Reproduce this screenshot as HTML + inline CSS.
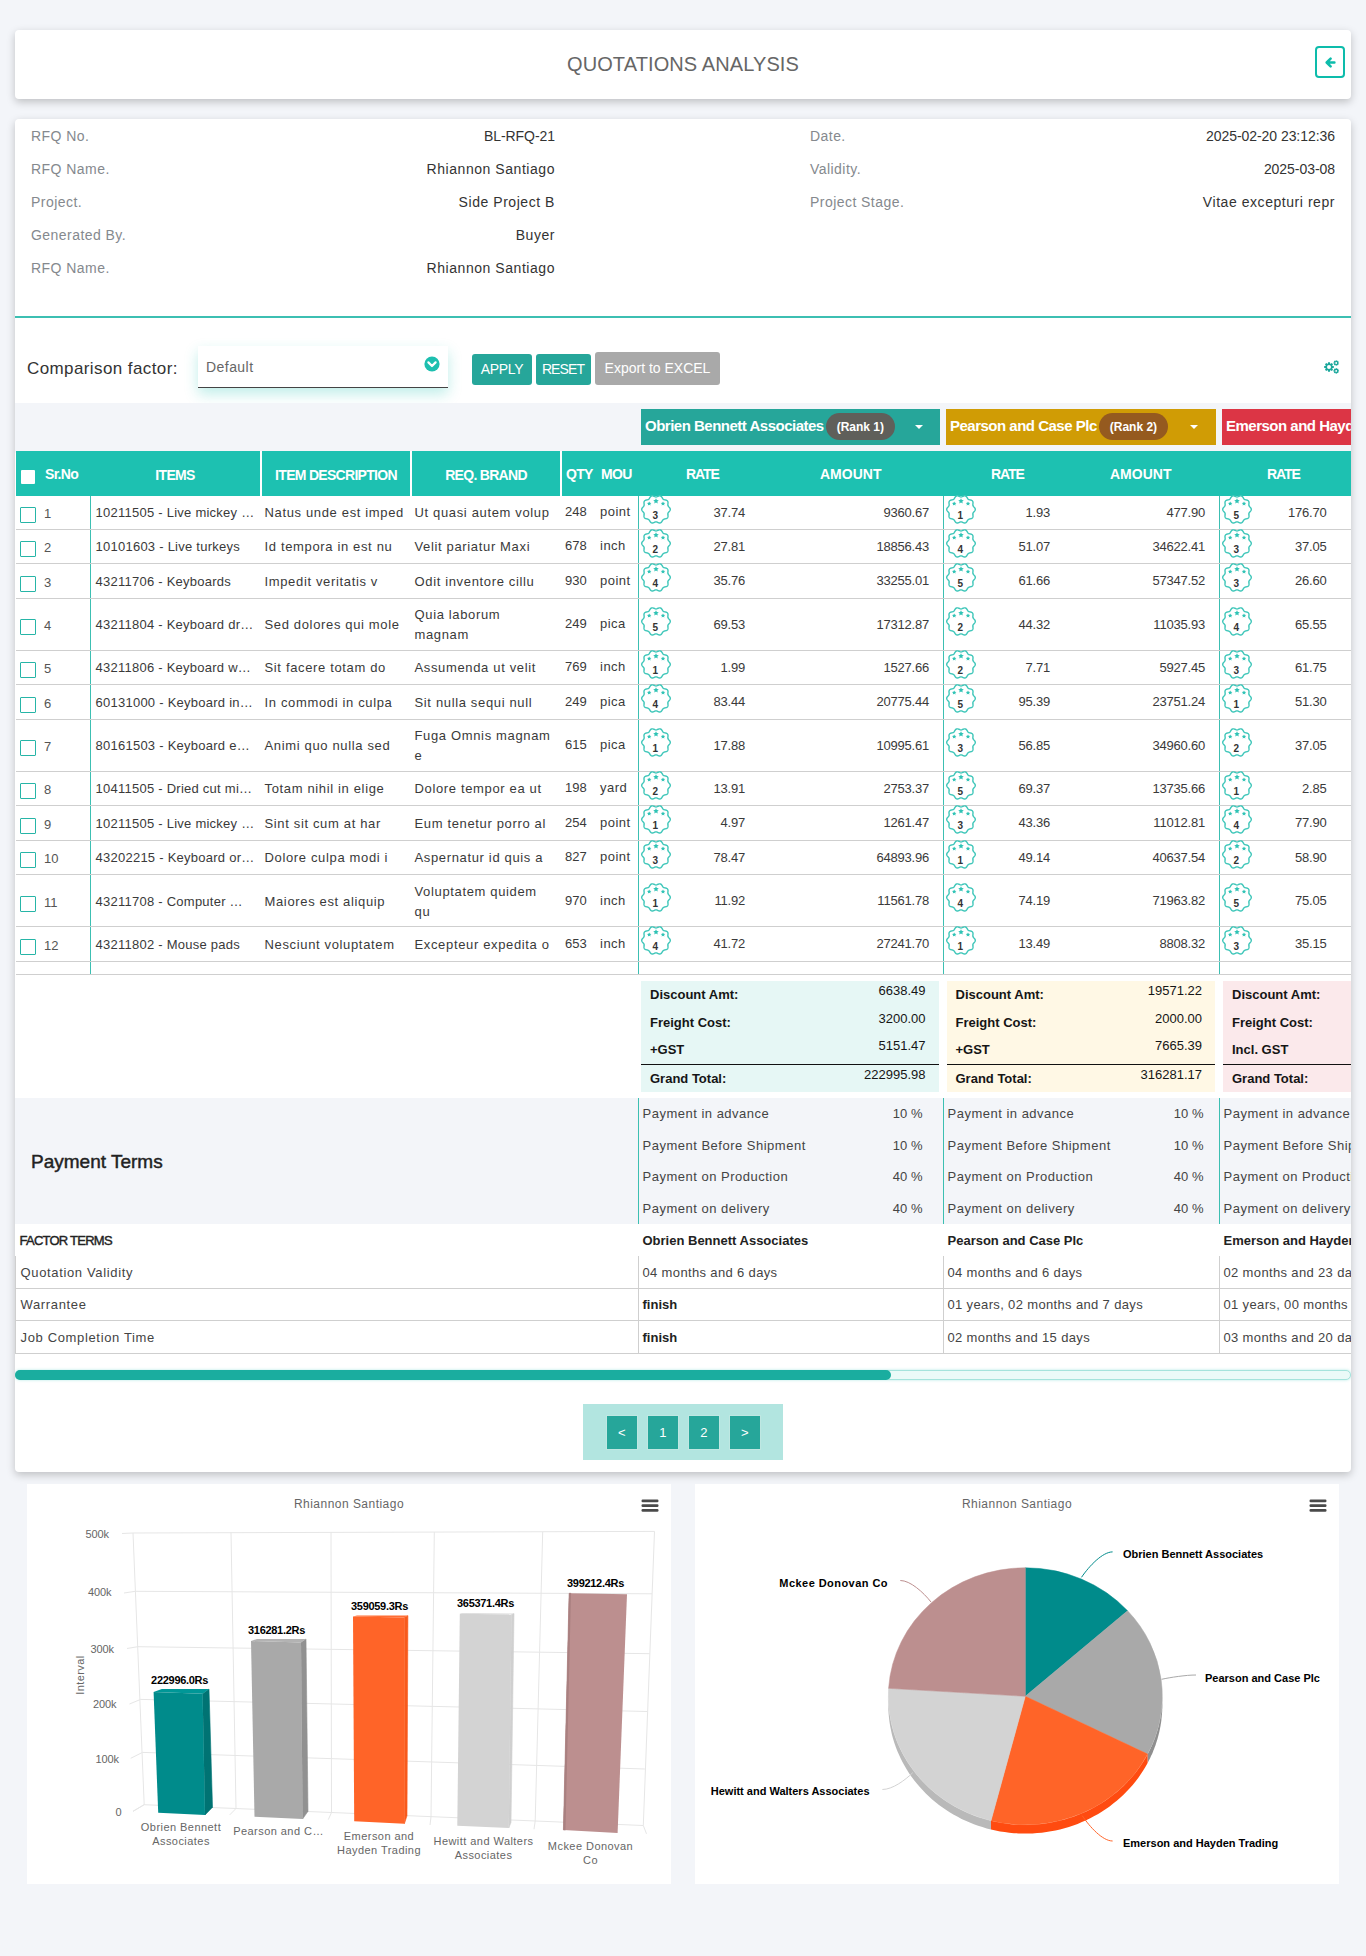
<!DOCTYPE html>
<html lang="en"><head><meta charset="utf-8"><title>Quotations Analysis</title>
<style>
*{box-sizing:border-box}
html,body{margin:0;padding:0}
body{width:1366px;height:1956px;background:#f3f5f9;font-family:"Liberation Sans",sans-serif;font-size:14px;color:#333;position:relative;overflow:hidden;letter-spacing:.45px}
.card{position:absolute;left:15px;width:1336px;background:#fff;border-radius:4px;box-shadow:0 3px 9px rgba(0,0,0,.22)}
#hd{top:30px;height:69px}
#hd h1{margin:0;position:absolute;left:0;right:0;top:21px;text-align:center;font-size:20px;font-weight:400;color:#666;letter-spacing:.1px;line-height:26px}
#back{position:absolute;left:1300px;top:16px;width:30px;height:32px;border:2px solid #0dbcab;border-radius:4px;background:#fff}
#back svg{position:absolute;left:8.2px;top:8.5px}
#main{top:119px;height:1353px;overflow:hidden}
.info{position:absolute;left:0;top:0;width:1336px;height:198px}
.info div{position:absolute;line-height:20px;height:20px;white-space:nowrap}
.info .l{color:#85898e}
.info .v{color:#333;text-align:right;letter-spacing:.55px}
.info .v.num{letter-spacing:-.05px}
#hr{position:absolute;left:0;top:197px;width:1336px;height:2px;background:#3cbfb2}
#cf{position:absolute;left:12px;top:239px;font-size:17px;line-height:22px;color:#333;letter-spacing:.4px}
#sel{position:absolute;left:183px;top:226.5px;width:250px;height:42px;background:#fff;border-bottom:1.5px solid #444;box-shadow:0 6px 14px rgba(29,193,177,.28);}
#sel span{position:absolute;left:8px;top:11px;font-size:14px;color:#666;line-height:20px}
#sel svg{position:absolute;left:225.5px;top:10.5px}
.btn{position:absolute;top:235px;height:31px;border-radius:3px;color:#fff;font-size:14px;line-height:30px;text-align:center;letter-spacing:0}
#b1{left:457px;width:60px;background:#26a69a;letter-spacing:-.3px}
#b2{left:521px;width:55px;background:#26a69a;letter-spacing:-.9px;text-indent:-1px}
#b3{left:580px;width:125px;background:#a9a9a9;letter-spacing:0;top:233px;height:33px;line-height:32px}
#gear{position:absolute;left:1308px;top:240px}
#strip{position:absolute;left:0;top:284px;width:1336px;height:50px;background:#f3f5f9}
.vh{position:absolute;top:290px;height:36px;color:#fff;font-weight:700;font-size:15px;line-height:34px;white-space:nowrap;letter-spacing:-.5px;padding-left:4px}
.vh .rk{display:inline-block;vertical-align:middle;height:27px;line-height:28.5px;border-radius:14px;padding:0 10.5px;font-size:12px;margin-left:2.5px;position:relative;top:-.6px;letter-spacing:0}
.vh i{position:absolute;top:16px;border:4px solid transparent;border-top-color:#fff;border-bottom:0;width:0;height:0}
#vh1{left:626px;width:299px;background:#26a69a}
#vh2{left:931px;width:270px;background:#d09c05}
#vh3{left:1207px;width:140px;background:#dc3545}
table{border-collapse:collapse;border-spacing:0}
#tb{position:absolute;left:1px;top:332px;width:1400px;table-layout:fixed}
#tb th{background:#1dc1b1;color:#fff;font-weight:700;font-size:14px;height:45px;padding:0;text-align:center;letter-spacing:-.7px;position:relative;white-space:nowrap}
#tb th.s{border-right:2px solid #fff}
#tb th b{position:relative;top:1.5px}
#tb td{padding:2px 0 0 5px;border-bottom:1px solid #cfcfcf;vertical-align:middle;line-height:20px;white-space:nowrap;position:relative;color:#3a3a3a;font-size:13px;letter-spacing:.65px}
#tb td.c1{letter-spacing:.25px}
#tb td.c2,#tb td.c3{padding-left:3.5px}
.c4 .q{letter-spacing:0}.c4 .m{letter-spacing:.5px}
#tb tr.r1 td{height:34.5px}
#tb tr.r2 td{height:52px}
#tb tr.r1:nth-child(2) td{height:33.2px}
#tb tr.re td{height:13px;border-bottom:1px solid #cfcfcf}
#tb td.c0{border-right:1.5px solid #3cbfb2}
#tb td.c4,#tb td.v1,#tb td.v2{border-right:1.5px solid #3cbfb2}
.cb{position:absolute;left:4px;top:50%;margin-top:-5px;width:16px;height:16px;border:1.5px solid #26b5a7;border-radius:1px;background:#fff}
.sn{position:absolute;left:28px;top:50%;margin-top:-8px;color:#555;font-size:13px;letter-spacing:0}
.c4 .q{position:absolute;left:4px;top:50%;margin-top:-10px}
.c4 .m{position:absolute;left:39px;top:50%;margin-top:-10px}
.bdg{position:absolute;left:2.5px;top:50%;margin-top:-17.6px}
.bdg text{font:700 10px "Liberation Sans",sans-serif;fill:#333;letter-spacing:0}
.rt,.am{position:absolute;top:50%;margin-top:-9.5px;text-align:right;letter-spacing:-.2px}
.v1 .rt{right:197.5px}.v1 .am{right:13.5px}
.v2 .rt{right:168.5px}.v2 .am{right:13.5px}
.v3 .rt{left:32px;width:75px}
#tot{position:absolute;left:0;top:856px;width:1336px;height:123px;background:#fff}
.tb{position:absolute;top:6px;height:110.5px;font-weight:700;font-size:13px;color:#151515;letter-spacing:0}
.tb div{position:absolute;left:9px;line-height:20px;white-space:nowrap}
.tb span{position:absolute;right:13px;line-height:20px;font-weight:400;letter-spacing:0;font-size:13px}
.tb u{position:absolute;left:0;right:0;top:83px;height:1px;background:#111}
#t1{left:626px;width:297.5px;background:#e6f7f5}
#t2{left:931.5px;width:268.5px;background:#fff8e5}
#t3{left:1208px;width:140px;background:#fbe9eb}
#pay{position:absolute;left:0;top:979px;width:1336px;height:126px;background:#f3f5f9}
#pay h3{position:absolute;left:16px;top:52px;margin:0;font-size:19px;font-weight:400;-webkit-text-stroke:.45px #222;color:#222;letter-spacing:0;line-height:24px}
.pc{position:absolute;top:0;height:126px;border-left:1.5px solid #3cbfb2}
.pc div{position:absolute;left:4px;line-height:20px;white-space:nowrap;color:#444;font-size:13px;letter-spacing:.5px}
.pc span{margin-right:-1px;position:absolute;line-height:20px;white-space:nowrap;color:#444;letter-spacing:0;font-size:13px}
#ft{position:absolute;left:0;top:1105px;width:1400px;table-layout:fixed}
#ft td{height:32.3px;padding:0 0 0 5px;white-space:nowrap;border-bottom:1px solid #cfcfcf;border-left:1px solid #cfcfcf;color:#444;font-size:13px;letter-spacing:.35px}
#ft td:first-child{letter-spacing:.65px;padding-left:4.5px}
#ft td+td{padding-left:3.5px}
#ft tr.h td{font-weight:700;color:#222;border:0;letter-spacing:0;padding-left:4px}
#ft tr.h td:first-child{letter-spacing:-.75px;font-weight:400;-webkit-text-stroke:.4px #222}
#ft b{letter-spacing:0;color:#222}
#sb{position:absolute;left:0;top:1251px;width:1336px;height:10px;border-radius:5px;background:#eafaf8;border:1.5px solid #a4e3dc;box-shadow:0 0 3px rgba(29,193,177,.35)}
#sb i{position:absolute;left:-1.5px;top:-1.5px;width:876px;height:10px;border-radius:5px;background:#1aad9f}
#pg{position:absolute;left:568px;top:1285px;width:200px;height:55.5px;background:#b2e5e0}
#pg a{position:absolute;top:10.5px;width:31.5px;height:35px;border:1px solid #bfe7e2;background:#26a69a;color:#fff;text-align:center;line-height:34px;font-size:13px;letter-spacing:0}
.ch{position:absolute;top:1484px;width:644px;height:399.5px;background:#fff}
.ch text{font-family:"Liberation Sans",sans-serif}
</style></head><body>
<svg width="0" height="0" style="position:absolute"><defs><g id="bd"><path d="M15.00 1.95 L15.40 1.91 L15.80 1.81 L16.22 1.66 L16.65 1.47 L17.10 1.26 L17.57 1.08 L18.04 0.93 L18.51 0.85 L18.98 0.85 L19.42 0.94 L19.83 1.13 L20.20 1.39 L20.54 1.74 L20.83 2.13 L21.10 2.55 L21.34 2.98 L21.58 3.38 L21.83 3.75 L22.09 4.07 L22.39 4.33 L22.73 4.53 L23.12 4.68 L23.55 4.80 L24.01 4.90 L24.50 5.00 L24.99 5.12 L25.45 5.27 L25.89 5.48 L26.26 5.75 L26.56 6.08 L26.79 6.47 L26.93 6.91 L27.00 7.38 L27.00 7.87 L26.97 8.36 L26.91 8.85 L26.87 9.32 L26.84 9.76 L26.87 10.17 L26.96 10.55 L27.12 10.91 L27.34 11.26 L27.62 11.61 L27.93 11.96 L28.27 12.32 L28.59 12.70 L28.88 13.10 L29.10 13.52 L29.24 13.96 L29.29 14.40 L29.24 14.84 L29.10 15.28 L28.88 15.70 L28.59 16.10 L28.27 16.48 L27.93 16.84 L27.62 17.19 L27.34 17.54 L27.12 17.89 L26.96 18.25 L26.87 18.63 L26.84 19.04 L26.87 19.48 L26.91 19.95 L26.97 20.44 L27.00 20.93 L27.00 21.42 L26.93 21.89 L26.79 22.33 L26.56 22.72 L26.26 23.05 L25.89 23.32 L25.45 23.53 L24.99 23.68 L24.50 23.80 L24.01 23.90 L23.55 24.00 L23.12 24.12 L22.73 24.27 L22.39 24.47 L22.09 24.73 L21.83 25.05 L21.58 25.42 L21.34 25.82 L21.10 26.25 L20.83 26.67 L20.54 27.06 L20.20 27.41 L19.83 27.67 L19.42 27.86 L18.98 27.95 L18.51 27.95 L18.04 27.87 L17.57 27.72 L17.10 27.54 L16.65 27.33 L16.22 27.14 L15.80 26.99 L15.40 26.89 L15.00 26.85 L14.60 26.89 L14.20 26.99 L13.78 27.14 L13.35 27.33 L12.90 27.54 L12.43 27.72 L11.96 27.87 L11.49 27.95 L11.02 27.95 L10.58 27.86 L10.17 27.67 L9.80 27.41 L9.46 27.06 L9.17 26.67 L8.90 26.25 L8.66 25.82 L8.42 25.42 L8.17 25.05 L7.91 24.73 L7.61 24.47 L7.27 24.27 L6.88 24.12 L6.45 24.00 L5.99 23.90 L5.50 23.80 L5.01 23.68 L4.55 23.53 L4.11 23.32 L3.74 23.05 L3.44 22.72 L3.21 22.33 L3.07 21.89 L3.00 21.42 L3.00 20.93 L3.03 20.44 L3.09 19.95 L3.13 19.48 L3.16 19.04 L3.13 18.63 L3.04 18.25 L2.88 17.89 L2.66 17.54 L2.38 17.19 L2.07 16.84 L1.73 16.48 L1.41 16.10 L1.12 15.70 L0.90 15.28 L0.76 14.84 L0.71 14.40 L0.76 13.96 L0.90 13.52 L1.12 13.10 L1.41 12.70 L1.73 12.32 L2.07 11.96 L2.38 11.61 L2.66 11.26 L2.88 10.91 L3.04 10.55 L3.13 10.17 L3.16 9.76 L3.13 9.32 L3.09 8.85 L3.03 8.36 L3.00 7.87 L3.00 7.38 L3.07 6.91 L3.21 6.47 L3.44 6.08 L3.74 5.75 L4.11 5.48 L4.55 5.27 L5.01 5.12 L5.50 5.00 L5.99 4.90 L6.45 4.80 L6.88 4.68 L7.27 4.53 L7.61 4.33 L7.91 4.07 L8.17 3.75 L8.42 3.38 L8.66 2.98 L8.90 2.55 L9.17 2.13 L9.46 1.74 L9.80 1.39 L10.17 1.13 L10.58 0.94 L11.02 0.85 L11.49 0.85 L11.96 0.93 L12.43 1.08 L12.90 1.26 L13.35 1.47 L13.78 1.66 L14.20 1.81 L14.60 1.91Z" fill="#fff" stroke="#3ec6b9" stroke-width="1.4"/><path d="M15.00 3.20 L15.85 4.93 L17.76 5.20 L16.38 6.55 L16.70 8.45 L15.00 7.55 L13.30 8.45 L13.62 6.55 L12.24 5.20 L14.15 4.93Z M8.20 6.40 L8.88 7.77 L10.39 7.99 L9.29 9.06 L9.55 10.56 L8.20 9.85 L6.85 10.56 L7.11 9.06 L6.01 7.99 L7.52 7.77Z M22.00 6.40 L22.68 7.77 L24.19 7.99 L23.09 9.06 L23.35 10.56 L22.00 9.85 L20.65 10.56 L20.91 9.06 L19.81 7.99 L21.32 7.77Z" fill="#2fc3b5"/></g></defs></svg>

<div class="card" id="hd"><h1>QUOTATIONS ANALYSIS</h1>
<div id="back"><svg width="11" height="11" viewBox="0 0 11 11"><path d="M5.6 1.6 L1.7 5.5 L5.6 9.4 M2.4 5.5 H9.4" fill="none" stroke="#0dbcab" stroke-width="2.5" stroke-linecap="round" stroke-linejoin="round"/></svg></div></div>

<div class="card" id="main">
<div class="info">
<div class="l" style="left:16px;top:7px">RFQ No.</div><div class="v num" style="right:796px;top:7px">BL-RFQ-21</div>
<div class="l" style="left:16px;top:40px">RFQ Name.</div><div class="v" style="right:796px;top:40px">Rhiannon Santiago</div>
<div class="l" style="left:16px;top:73px">Project.</div><div class="v" style="right:796px;top:73px">Side Project B</div>
<div class="l" style="left:16px;top:106px">Generated By.</div><div class="v" style="right:796px;top:106px">Buyer</div>
<div class="l" style="left:16px;top:139px">RFQ Name.</div><div class="v" style="right:796px;top:139px">Rhiannon Santiago</div>
<div class="l" style="left:795px;top:7px">Date.</div><div class="v num" style="right:16px;top:7px">2025-02-20 23:12:36</div>
<div class="l" style="left:795px;top:40px">Validity.</div><div class="v num" style="right:16px;top:40px">2025-03-08</div>
<div class="l" style="left:795px;top:73px">Project Stage.</div><div class="v" style="right:16px;top:73px">Vitae excepturi repr</div>
</div>
<div id="hr"></div>
<div id="cf">Comparison factor:</div>
<div id="sel"><span>Default</span><svg width="16" height="16" viewBox="0 0 16 16"><circle cx="8" cy="8" r="7.6" fill="#1dbfaf"/><path d="M4.4 6.4 L8 10 L11.6 6.4" fill="none" stroke="#fff" stroke-width="2.2" stroke-linecap="round" stroke-linejoin="round"/></svg></div>
<div class="btn" id="b1">APPLY</div><div class="btn" id="b2">RESET</div><div class="btn" id="b3">Export to EXCEL</div>
<svg id="gear" width="18" height="16" viewBox="0 0 18 16"><path d="M4.99 4.44 L5.02 3.20 L6.98 3.20 L7.01 4.44 L7.80 4.77 L8.70 3.91 L10.09 5.30 L9.23 6.20 L9.56 6.99 L10.80 7.02 L10.80 8.98 L9.56 9.01 L9.23 9.80 L10.09 10.70 L8.70 12.09 L7.80 11.23 L7.01 11.56 L6.98 12.80 L5.02 12.80 L4.99 11.56 L4.20 11.23 L3.30 12.09 L1.91 10.70 L2.77 9.80 L2.44 9.01 L1.20 8.98 L1.20 7.02 L2.44 6.99 L2.77 6.20 L1.91 5.30 L3.30 3.91 L4.20 4.77Z M4.00 8.00 a2.0 2.0 0 1 0 4.0 0 a2.0 2.0 0 1 0 -4.0 0Z M12.63 1.98 L12.62 1.16 L13.78 1.16 L13.77 1.98 L14.22 2.17 L14.80 1.58 L15.62 2.40 L15.03 2.98 L15.22 3.43 L16.04 3.42 L16.04 4.58 L15.22 4.57 L15.03 5.02 L15.62 5.60 L14.80 6.42 L14.22 5.83 L13.77 6.02 L13.78 6.84 L12.62 6.84 L12.63 6.02 L12.18 5.83 L11.60 6.42 L10.78 5.60 L11.37 5.02 L11.18 4.57 L10.36 4.58 L10.36 3.42 L11.18 3.43 L11.37 2.98 L10.78 2.40 L11.60 1.58 L12.18 2.17Z M12.25 4.00 a0.95 0.95 0 1 0 1.9 0 a0.95 0.95 0 1 0 -1.9 0Z M12.63 9.88 L12.62 9.06 L13.78 9.06 L13.77 9.88 L14.22 10.07 L14.80 9.48 L15.62 10.30 L15.03 10.88 L15.22 11.33 L16.04 11.32 L16.04 12.48 L15.22 12.47 L15.03 12.92 L15.62 13.50 L14.80 14.32 L14.22 13.73 L13.77 13.92 L13.78 14.74 L12.62 14.74 L12.63 13.92 L12.18 13.73 L11.60 14.32 L10.78 13.50 L11.37 12.92 L11.18 12.47 L10.36 12.48 L10.36 11.32 L11.18 11.33 L11.37 10.88 L10.78 10.30 L11.60 9.48 L12.18 10.07Z M12.25 11.90 a0.95 0.95 0 1 0 1.9 0 a0.95 0.95 0 1 0 -1.9 0Z" fill="#1aa79b" fill-rule="evenodd"/></svg>

<div id="strip"></div>
<div class="vh" id="vh1">Obrien Bennett Associates<span class="rk" style="background:#5f5f5a">(Rank 1)</span><i style="left:274px"></i></div>
<div class="vh" id="vh2">Pearson and Case Plc<span class="rk" style="background:#955a1f">(Rank 2)</span><i style="left:244px"></i></div>
<div class="vh" id="vh3">Emerson and Hayden Trading</div>

<table id="tb"><colgroup><col style="width:74px"><col style="width:171px"><col style="width:150px"><col style="width:150px"><col style="width:77px"><col style="width:305px"><col style="width:276px"><col style="width:197px"></colgroup>
<tr><th><span style="position:absolute;left:5px;top:18.5px;width:14px;height:14.5px;background:#fff;border-radius:1px"></span><span style="position:absolute;left:29px;top:15px">Sr.No</span></th><th class="s"><b>ITEMS</b></th><th class="s"><b>ITEM DESCRIPTION</b></th><th class="s"><b>REQ. BRAND</b></th><th><span style="position:absolute;left:4px;top:15px">QTY</span><span style="position:absolute;left:39px;top:15px">MOU</span></th><th><span style="position:absolute;left:48px;top:15px;letter-spacing:-1.1px">RATE</span><span style="position:absolute;left:182px;top:15px;letter-spacing:0">AMOUNT</span></th><th><span style="position:absolute;left:48px;top:15px;letter-spacing:-1.1px">RATE</span><span style="position:absolute;left:167px;top:15px;letter-spacing:0">AMOUNT</span></th><th><span style="position:absolute;left:48px;top:15px;letter-spacing:-1.1px">RATE</span></th></tr>
<tr class="r1"><td class="c0"><span class="cb"></span><span class="sn">1</span></td><td class="c1">10211505 - Live mickey …</td><td class="c2">Natus unde est imped</td><td class="c3">Ut quasi autem volup</td><td class="c4"><span class="q">248</span><span class="m">point</span></td>
<td class="v1"><svg class="bdg" width="30" height="29" viewBox="0 0 30 29"><use href="#bd"/><text x="14.3" y="24.1" text-anchor="middle">3</text></svg><span class="rt">37.74</span><span class="am">9360.67</span></td><td class="v2"><svg class="bdg" width="30" height="29" viewBox="0 0 30 29"><use href="#bd"/><text x="14.3" y="24.1" text-anchor="middle">1</text></svg><span class="rt">1.93</span><span class="am">477.90</span></td><td class="v3"><svg class="bdg" width="30" height="29" viewBox="0 0 30 29"><use href="#bd"/><text x="14.3" y="24.1" text-anchor="middle">5</text></svg><span class="rt">176.70</span></td></tr>
<tr class="r1"><td class="c0"><span class="cb"></span><span class="sn">2</span></td><td class="c1">10101603 - Live turkeys</td><td class="c2">Id tempora in est nu</td><td class="c3">Velit pariatur Maxi</td><td class="c4"><span class="q">678</span><span class="m">inch</span></td>
<td class="v1"><svg class="bdg" width="30" height="29" viewBox="0 0 30 29"><use href="#bd"/><text x="14.3" y="24.1" text-anchor="middle">2</text></svg><span class="rt">27.81</span><span class="am">18856.43</span></td><td class="v2"><svg class="bdg" width="30" height="29" viewBox="0 0 30 29"><use href="#bd"/><text x="14.3" y="24.1" text-anchor="middle">4</text></svg><span class="rt">51.07</span><span class="am">34622.41</span></td><td class="v3"><svg class="bdg" width="30" height="29" viewBox="0 0 30 29"><use href="#bd"/><text x="14.3" y="24.1" text-anchor="middle">3</text></svg><span class="rt">37.05</span></td></tr>
<tr class="r1"><td class="c0"><span class="cb"></span><span class="sn">3</span></td><td class="c1">43211706 - Keyboards</td><td class="c2">Impedit veritatis v</td><td class="c3">Odit inventore cillu</td><td class="c4"><span class="q">930</span><span class="m">point</span></td>
<td class="v1"><svg class="bdg" width="30" height="29" viewBox="0 0 30 29"><use href="#bd"/><text x="14.3" y="24.1" text-anchor="middle">4</text></svg><span class="rt">35.76</span><span class="am">33255.01</span></td><td class="v2"><svg class="bdg" width="30" height="29" viewBox="0 0 30 29"><use href="#bd"/><text x="14.3" y="24.1" text-anchor="middle">5</text></svg><span class="rt">61.66</span><span class="am">57347.52</span></td><td class="v3"><svg class="bdg" width="30" height="29" viewBox="0 0 30 29"><use href="#bd"/><text x="14.3" y="24.1" text-anchor="middle">3</text></svg><span class="rt">26.60</span></td></tr>
<tr class="r2"><td class="c0"><span class="cb"></span><span class="sn">4</span></td><td class="c1">43211804 - Keyboard dr…</td><td class="c2">Sed dolores qui mole</td><td class="c3">Quia laborum<br>magnam</td><td class="c4"><span class="q">249</span><span class="m">pica</span></td>
<td class="v1"><svg class="bdg" width="30" height="29" viewBox="0 0 30 29"><use href="#bd"/><text x="14.3" y="24.1" text-anchor="middle">5</text></svg><span class="rt">69.53</span><span class="am">17312.87</span></td><td class="v2"><svg class="bdg" width="30" height="29" viewBox="0 0 30 29"><use href="#bd"/><text x="14.3" y="24.1" text-anchor="middle">2</text></svg><span class="rt">44.32</span><span class="am">11035.93</span></td><td class="v3"><svg class="bdg" width="30" height="29" viewBox="0 0 30 29"><use href="#bd"/><text x="14.3" y="24.1" text-anchor="middle">4</text></svg><span class="rt">65.55</span></td></tr>
<tr class="r1"><td class="c0"><span class="cb"></span><span class="sn">5</span></td><td class="c1">43211806 - Keyboard w…</td><td class="c2">Sit facere totam do</td><td class="c3">Assumenda ut velit</td><td class="c4"><span class="q">769</span><span class="m">inch</span></td>
<td class="v1"><svg class="bdg" width="30" height="29" viewBox="0 0 30 29"><use href="#bd"/><text x="14.3" y="24.1" text-anchor="middle">1</text></svg><span class="rt">1.99</span><span class="am">1527.66</span></td><td class="v2"><svg class="bdg" width="30" height="29" viewBox="0 0 30 29"><use href="#bd"/><text x="14.3" y="24.1" text-anchor="middle">2</text></svg><span class="rt">7.71</span><span class="am">5927.45</span></td><td class="v3"><svg class="bdg" width="30" height="29" viewBox="0 0 30 29"><use href="#bd"/><text x="14.3" y="24.1" text-anchor="middle">3</text></svg><span class="rt">61.75</span></td></tr>
<tr class="r1"><td class="c0"><span class="cb"></span><span class="sn">6</span></td><td class="c1">60131000 - Keyboard in…</td><td class="c2">In commodi in culpa</td><td class="c3">Sit nulla sequi null</td><td class="c4"><span class="q">249</span><span class="m">pica</span></td>
<td class="v1"><svg class="bdg" width="30" height="29" viewBox="0 0 30 29"><use href="#bd"/><text x="14.3" y="24.1" text-anchor="middle">4</text></svg><span class="rt">83.44</span><span class="am">20775.44</span></td><td class="v2"><svg class="bdg" width="30" height="29" viewBox="0 0 30 29"><use href="#bd"/><text x="14.3" y="24.1" text-anchor="middle">5</text></svg><span class="rt">95.39</span><span class="am">23751.24</span></td><td class="v3"><svg class="bdg" width="30" height="29" viewBox="0 0 30 29"><use href="#bd"/><text x="14.3" y="24.1" text-anchor="middle">1</text></svg><span class="rt">51.30</span></td></tr>
<tr class="r2"><td class="c0"><span class="cb"></span><span class="sn">7</span></td><td class="c1">80161503 - Keyboard e…</td><td class="c2">Animi quo nulla sed</td><td class="c3">Fuga Omnis magnam<br>e</td><td class="c4"><span class="q">615</span><span class="m">pica</span></td>
<td class="v1"><svg class="bdg" width="30" height="29" viewBox="0 0 30 29"><use href="#bd"/><text x="14.3" y="24.1" text-anchor="middle">1</text></svg><span class="rt">17.88</span><span class="am">10995.61</span></td><td class="v2"><svg class="bdg" width="30" height="29" viewBox="0 0 30 29"><use href="#bd"/><text x="14.3" y="24.1" text-anchor="middle">3</text></svg><span class="rt">56.85</span><span class="am">34960.60</span></td><td class="v3"><svg class="bdg" width="30" height="29" viewBox="0 0 30 29"><use href="#bd"/><text x="14.3" y="24.1" text-anchor="middle">2</text></svg><span class="rt">37.05</span></td></tr>
<tr class="r1"><td class="c0"><span class="cb"></span><span class="sn">8</span></td><td class="c1">10411505 - Dried cut mi…</td><td class="c2">Totam nihil in elige</td><td class="c3">Dolore tempor ea ut</td><td class="c4"><span class="q">198</span><span class="m">yard</span></td>
<td class="v1"><svg class="bdg" width="30" height="29" viewBox="0 0 30 29"><use href="#bd"/><text x="14.3" y="24.1" text-anchor="middle">2</text></svg><span class="rt">13.91</span><span class="am">2753.37</span></td><td class="v2"><svg class="bdg" width="30" height="29" viewBox="0 0 30 29"><use href="#bd"/><text x="14.3" y="24.1" text-anchor="middle">5</text></svg><span class="rt">69.37</span><span class="am">13735.66</span></td><td class="v3"><svg class="bdg" width="30" height="29" viewBox="0 0 30 29"><use href="#bd"/><text x="14.3" y="24.1" text-anchor="middle">1</text></svg><span class="rt">2.85</span></td></tr>
<tr class="r1"><td class="c0"><span class="cb"></span><span class="sn">9</span></td><td class="c1">10211505 - Live mickey …</td><td class="c2">Sint sit cum at har</td><td class="c3">Eum tenetur porro al</td><td class="c4"><span class="q">254</span><span class="m">point</span></td>
<td class="v1"><svg class="bdg" width="30" height="29" viewBox="0 0 30 29"><use href="#bd"/><text x="14.3" y="24.1" text-anchor="middle">1</text></svg><span class="rt">4.97</span><span class="am">1261.47</span></td><td class="v2"><svg class="bdg" width="30" height="29" viewBox="0 0 30 29"><use href="#bd"/><text x="14.3" y="24.1" text-anchor="middle">3</text></svg><span class="rt">43.36</span><span class="am">11012.81</span></td><td class="v3"><svg class="bdg" width="30" height="29" viewBox="0 0 30 29"><use href="#bd"/><text x="14.3" y="24.1" text-anchor="middle">4</text></svg><span class="rt">77.90</span></td></tr>
<tr class="r1"><td class="c0"><span class="cb"></span><span class="sn">10</span></td><td class="c1">43202215 - Keyboard or…</td><td class="c2">Dolore culpa modi i</td><td class="c3">Aspernatur id quis a</td><td class="c4"><span class="q">827</span><span class="m">point</span></td>
<td class="v1"><svg class="bdg" width="30" height="29" viewBox="0 0 30 29"><use href="#bd"/><text x="14.3" y="24.1" text-anchor="middle">3</text></svg><span class="rt">78.47</span><span class="am">64893.96</span></td><td class="v2"><svg class="bdg" width="30" height="29" viewBox="0 0 30 29"><use href="#bd"/><text x="14.3" y="24.1" text-anchor="middle">1</text></svg><span class="rt">49.14</span><span class="am">40637.54</span></td><td class="v3"><svg class="bdg" width="30" height="29" viewBox="0 0 30 29"><use href="#bd"/><text x="14.3" y="24.1" text-anchor="middle">2</text></svg><span class="rt">58.90</span></td></tr>
<tr class="r2"><td class="c0"><span class="cb"></span><span class="sn">11</span></td><td class="c1">43211708 - Computer …</td><td class="c2">Maiores est aliquip</td><td class="c3">Voluptatem quidem<br>qu</td><td class="c4"><span class="q">970</span><span class="m">inch</span></td>
<td class="v1"><svg class="bdg" width="30" height="29" viewBox="0 0 30 29"><use href="#bd"/><text x="14.3" y="24.1" text-anchor="middle">1</text></svg><span class="rt">11.92</span><span class="am">11561.78</span></td><td class="v2"><svg class="bdg" width="30" height="29" viewBox="0 0 30 29"><use href="#bd"/><text x="14.3" y="24.1" text-anchor="middle">4</text></svg><span class="rt">74.19</span><span class="am">71963.82</span></td><td class="v3"><svg class="bdg" width="30" height="29" viewBox="0 0 30 29"><use href="#bd"/><text x="14.3" y="24.1" text-anchor="middle">5</text></svg><span class="rt">75.05</span></td></tr>
<tr class="r1"><td class="c0"><span class="cb"></span><span class="sn">12</span></td><td class="c1">43211802 - Mouse pads</td><td class="c2">Nesciunt voluptatem</td><td class="c3">Excepteur expedita o</td><td class="c4"><span class="q">653</span><span class="m">inch</span></td>
<td class="v1"><svg class="bdg" width="30" height="29" viewBox="0 0 30 29"><use href="#bd"/><text x="14.3" y="24.1" text-anchor="middle">4</text></svg><span class="rt">41.72</span><span class="am">27241.70</span></td><td class="v2"><svg class="bdg" width="30" height="29" viewBox="0 0 30 29"><use href="#bd"/><text x="14.3" y="24.1" text-anchor="middle">1</text></svg><span class="rt">13.49</span><span class="am">8808.32</span></td><td class="v3"><svg class="bdg" width="30" height="29" viewBox="0 0 30 29"><use href="#bd"/><text x="14.3" y="24.1" text-anchor="middle">3</text></svg><span class="rt">35.15</span></td></tr>
<tr class="re"><td class="c0"></td><td></td><td></td><td></td><td class="c4"></td><td class="v1"></td><td class="v2"></td><td></td></tr>
</table>

<div id="tot">
<div class="tb" id="t1"><div style="top:4px">Discount Amt:</div><span style="top:0">6638.49</span><div style="top:32px">Freight Cost:</div><span style="top:28px">3200.00</span><div style="top:59px">+GST</div><span style="top:55px">5151.47</span><u></u><div style="top:88px">Grand Total:</div><span style="top:84px">222995.98</span></div>
<div class="tb" id="t2"><div style="top:4px">Discount Amt:</div><span style="top:0">19571.22</span><div style="top:32px">Freight Cost:</div><span style="top:28px">2000.00</span><div style="top:59px">+GST</div><span style="top:55px">7665.39</span><u></u><div style="top:88px">Grand Total:</div><span style="top:84px">316281.17</span></div>
<div class="tb" id="t3"><div style="top:4px">Discount Amt:</div><div style="top:32px">Freight Cost:</div><div style="top:59px">Incl. GST</div><u></u><div style="top:88px">Grand Total:</div></div>
</div>

<div id="pay"><h3>Payment Terms</h3>
<div class="pc" style="left:622.5px;width:305px"><div style="top:6px">Payment in advance</div><span style="top:6px;right:21px">10 %</span><div style="top:38px">Payment Before Shipment</div><span style="top:38px;right:21px">10 %</span><div style="top:69px">Payment on Production</div><span style="top:69px;right:21px">40 %</span><div style="top:101px">Payment on delivery</div><span style="top:101px;right:21px">40 %</span></div>
<div class="pc" style="left:927.5px;width:276px"><div style="top:6px">Payment in advance</div><span style="top:6px;right:16px">10 %</span><div style="top:38px">Payment Before Shipment</div><span style="top:38px;right:16px">10 %</span><div style="top:69px">Payment on Production</div><span style="top:69px;right:16px">40 %</span><div style="top:101px">Payment on delivery</div><span style="top:101px;right:16px">40 %</span></div>
<div class="pc" style="left:1203.5px;width:200px"><div style="top:6px">Payment in advance</div><div style="top:38px">Payment Before Shipment</div><div style="top:69px">Payment on Production</div><div style="top:101px">Payment on delivery</div></div>
</div>

<table id="ft"><colgroup><col style="width:623px"><col style="width:305px"><col style="width:276px"><col style="width:196px"></colgroup>
<tr class="h"><td>FACTOR TERMS</td><td>Obrien Bennett Associates</td><td>Pearson and Case Plc</td><td>Emerson and Hayden Trading</td></tr>
<tr><td>Quotation Validity</td><td>04 months and 6 days</td><td>04 months and 6 days</td><td>02 months and 23 days</td></tr>
<tr><td>Warrantee</td><td><b>finish</b></td><td>01 years, 02 months and 7 days</td><td>01 years, 00 months and 12 days</td></tr>
<tr><td>Job Completion Time</td><td><b>finish</b></td><td>02 months and 15 days</td><td>03 months and 20 days</td></tr>
</table>

<div id="sb"><i></i></div>
<div id="pg"><a style="left:23px">&lt;</a><a style="left:64px">1</a><a style="left:105px">2</a><a style="left:146px">&gt;</a></div>
</div>

<div class="ch" style="left:27px"><svg width="644" height="399" viewBox="0 0 644 399" style="letter-spacing:0">
<text x="322" y="23.5" text-anchor="middle" font-size="12" fill="#666" style="letter-spacing:.47px">Rhiannon Santiago</text>
<rect x="614.5" y="15.5" width="17" height="2.8" rx="1.2" fill="#4a4a4a"/>
<rect x="614.5" y="20.2" width="17" height="2.8" rx="1.2" fill="#4a4a4a"/>
<rect x="614.5" y="24.9" width="17" height="2.8" rx="1.2" fill="#4a4a4a"/>
<polyline points="95.0,49.5 106.0,49.0 627.5,47.4" stroke="#e6e6e6" stroke-width="1" fill="none"/>
<polyline points="97.0,109.0 108.4,107.3 625.0,109.8" stroke="#e6e6e6" stroke-width="1" fill="none"/>
<polyline points="100.0,164.5 110.8,162.7 622.8,169.7" stroke="#e6e6e6" stroke-width="1" fill="none"/>
<polyline points="102.5,220.0 113.6,215.4 620.2,227.5" stroke="#e6e6e6" stroke-width="1" fill="none"/>
<polyline points="103.7,274.3 115.5,268.4 617.8,285.0" stroke="#e6e6e6" stroke-width="1" fill="none"/>
<polyline points="106.0,327.3 117.2,320.7 616.3,341.5" stroke="#e6e6e6" stroke-width="1" fill="none"/>
<polyline points="106.0,49.0 117.2,320.7 106.0,327.3" stroke="#e6e6e6" stroke-width="1" fill="none"/>
<polyline points="204.0,48.7 209.0,324.5 202.7,330.9" stroke="#e6e6e6" stroke-width="1" fill="none"/>
<polyline points="304.0,48.4 304.5,328.5 301.3,335.6" stroke="#e6e6e6" stroke-width="1" fill="none"/>
<polyline points="407.3,48.1 404.0,332.7 403.0,341.0" stroke="#e6e6e6" stroke-width="1" fill="none"/>
<polyline points="515.7,47.7 508.2,337.0 507.0,345.2" stroke="#e6e6e6" stroke-width="1" fill="none"/>
<polyline points="627.5,47.4 616.3,341.5 619.5,349.8" stroke="#e6e6e6" stroke-width="1" fill="none"/>
<polygon points="175.6,209.7 182.0,205.0 185.5,323.3 178.0,331.0" fill="#007373" stroke="#007373" stroke-width=".6"/>
<polygon points="126.6,208.0 134.8,205.0 182.0,205.0 175.6,209.7" fill="#009797"/>
<polygon points="126.6,208.0 175.6,209.7 178.0,331.0 131.2,328.8" fill="#008b8b"/>
<polygon points="274.0,158.5 279.0,155.0 281.0,327.3 275.6,335.0" fill="#919191" stroke="#919191" stroke-width=".6"/>
<polygon points="224.0,157.0 230.0,155.0 279.0,155.0 274.0,158.5" fill="#b3b3b3"/>
<polygon points="224.0,157.0 274.0,158.5 275.6,335.0 227.5,332.7" fill="#a9a9a9"/>
<polygon points="377.5,133.5 380.9,131.6 380.0,331.8 377.4,339.7" fill="#f85a1c" stroke="#f85a1c" stroke-width=".6"/>
<polygon points="326.0,132.4 330.0,131.4 380.9,131.6 377.5,133.5" fill="#ff6e35"/>
<polygon points="326.0,132.4 377.5,133.5 377.4,339.7 327.2,337.2" fill="#ff6428"/>
<polygon points="484.5,130.6 487.0,129.5 484.0,338.5 481.8,344.0" fill="#d0d0d0" stroke="#d0d0d0" stroke-width=".6"/>
<polygon points="432.8,129.8 435.0,129.0 487.0,129.5 484.5,130.6" fill="#dcdcdc"/>
<polygon points="432.8,129.8 484.5,130.6 481.8,344.0 430.3,341.8" fill="#d3d3d3"/>
<polygon points="542.1,109.3 544.0,109.3 538.5,346.0 536.4,346.0" fill="#a98080" stroke="#a98080" stroke-width=".6"/>
<polygon points="542.1,109.3 600.0,110.3 590.6,349.0 536.4,346.0" fill="#bc8f8f"/>
<polygon points="542.1,109.3 544.0,109.3 538.5,346.0 536.4,346.0" fill="#a98080"/>
<text x="152.6" y="200" text-anchor="middle" font-size="11" font-weight="700" fill="#000" style="letter-spacing:-.3px">222996.0Rs</text>
<text x="249.5" y="150" text-anchor="middle" font-size="11" font-weight="700" fill="#000" style="letter-spacing:-.3px">316281.2Rs</text>
<text x="352.5" y="126" text-anchor="middle" font-size="11" font-weight="700" fill="#000" style="letter-spacing:-.3px">359059.3Rs</text>
<text x="458.5" y="123" text-anchor="middle" font-size="11" font-weight="700" fill="#000" style="letter-spacing:-.3px">365371.4Rs</text>
<text x="568.5" y="103" text-anchor="middle" font-size="11" font-weight="700" fill="#000" style="letter-spacing:-.3px">399212.4Rs</text>
<text x="82" y="54" text-anchor="end" font-size="11" fill="#666" style="letter-spacing:-.1px">500k</text>
<text x="84.5" y="112" text-anchor="end" font-size="11" fill="#666" style="letter-spacing:-.1px">400k</text>
<text x="87" y="169" text-anchor="end" font-size="11" fill="#666" style="letter-spacing:-.1px">300k</text>
<text x="89.5" y="224" text-anchor="end" font-size="11" fill="#666" style="letter-spacing:-.1px">200k</text>
<text x="92" y="279" text-anchor="end" font-size="11" fill="#666" style="letter-spacing:-.1px">100k</text>
<text x="94.5" y="331.5" text-anchor="end" font-size="11" fill="#666" style="letter-spacing:-.1px">0</text>
<text transform="translate(56.5,191) rotate(-90)" text-anchor="middle" font-size="11" fill="#666" style="letter-spacing:.4px">Interval</text>
<text x="154" y="347" text-anchor="middle" font-size="11" fill="#666" style="letter-spacing:.45px">Obrien Bennett</text>
<text x="154" y="361" text-anchor="middle" font-size="11" fill="#666" style="letter-spacing:.45px">Associates</text>
<text x="251.5" y="351" text-anchor="middle" font-size="11" fill="#666" style="letter-spacing:.45px">Pearson and C…</text>
<text x="352" y="356" text-anchor="middle" font-size="11" fill="#666" style="letter-spacing:.45px">Emerson and</text>
<text x="352" y="370" text-anchor="middle" font-size="11" fill="#666" style="letter-spacing:.45px">Hayden Trading</text>
<text x="456.5" y="361" text-anchor="middle" font-size="11" fill="#666" style="letter-spacing:.45px">Hewitt and Walters</text>
<text x="456.5" y="375" text-anchor="middle" font-size="11" fill="#666" style="letter-spacing:.45px">Associates</text>
<text x="563.5" y="366" text-anchor="middle" font-size="11" fill="#666" style="letter-spacing:.45px">Mckee Donovan</text>
<text x="563.5" y="380" text-anchor="middle" font-size="11" fill="#666" style="letter-spacing:.45px">Co</text>
</svg></div>
<div class="ch" style="left:695px"><svg width="644" height="399" viewBox="0 0 644 399" style="letter-spacing:0">
<text x="322" y="23.5" text-anchor="middle" font-size="12" fill="#666" style="letter-spacing:.47px">Rhiannon Santiago</text>
<rect x="614.5" y="15.5" width="17" height="2.8" rx="1.2" fill="#4a4a4a"/>
<rect x="614.5" y="20.2" width="17" height="2.8" rx="1.2" fill="#4a4a4a"/>
<rect x="614.5" y="24.9" width="17" height="2.8" rx="1.2" fill="#4a4a4a"/>
<polygon points="467.3,212.3 467.3,213.8 467.3,215.3 467.2,216.8 467.2,218.3 467.1,219.8 467.0,221.3 466.8,222.8 466.7,224.3 466.5,225.8 466.4,227.3 466.2,228.8 466.0,230.2 465.7,231.7 465.5,233.2 465.2,234.7 464.9,236.2 464.6,237.6 464.3,239.1 463.9,240.6 463.6,242.0 463.2,243.5 462.8,244.9 462.4,246.4 462.0,247.8 461.5,249.3 461.0,250.7 460.6,252.1 460.1,253.5 459.5,255.0 459.0,256.4 458.4,257.8 457.9,259.2 457.3,260.6 456.7,262.0 456.0,263.3 455.4,264.7 454.7,266.1 454.0,267.4 453.4,268.8 452.6,270.1 452.6,278.9 453.4,277.6 454.0,276.2 454.7,274.9 455.4,273.5 456.0,272.1 456.7,270.8 457.3,269.4 457.9,268.0 458.4,266.6 459.0,265.2 459.5,263.8 460.1,262.3 460.6,260.9 461.0,259.5 461.5,258.1 462.0,256.6 462.4,255.2 462.8,253.7 463.2,252.3 463.6,250.8 463.9,249.4 464.3,247.9 464.6,246.4 464.9,245.0 465.2,243.5 465.5,242.0 465.7,240.5 466.0,239.0 466.2,237.6 466.4,236.1 466.5,234.6 466.7,233.1 466.8,231.6 467.0,230.1 467.1,228.6 467.2,227.1 467.2,225.6 467.3,224.1 467.3,222.6 467.3,221.1" fill="#8f8f8f"/>
<polygon points="452.6,270.1 450.5,274.0 448.2,277.8 445.7,281.5 443.2,285.1 440.5,288.7 437.7,292.1 434.7,295.5 431.6,298.8 428.5,301.9 425.2,305.0 421.8,308.0 418.2,310.8 414.6,313.6 410.9,316.2 407.1,318.7 403.2,321.1 399.3,323.3 395.2,325.5 391.1,327.5 386.9,329.3 382.6,331.1 378.3,332.7 373.9,334.1 369.5,335.4 365.0,336.6 360.5,337.6 355.9,338.5 351.4,339.3 346.8,339.9 342.1,340.3 337.5,340.6 332.9,340.8 328.2,340.8 323.6,340.6 318.9,340.4 314.3,339.9 309.7,339.3 305.1,338.6 300.6,337.7 296.0,336.7 296.0,345.5 300.6,346.5 305.1,347.4 309.7,348.1 314.3,348.7 318.9,349.2 323.6,349.4 328.2,349.6 332.9,349.6 337.5,349.4 342.1,349.1 346.8,348.7 351.4,348.1 355.9,347.3 360.5,346.4 365.0,345.4 369.5,344.2 373.9,342.9 378.3,341.5 382.6,339.9 386.9,338.1 391.1,336.3 395.2,334.3 399.3,332.1 403.2,329.9 407.1,327.5 410.9,325.0 414.6,322.4 418.2,319.6 421.8,316.8 425.2,313.8 428.5,310.7 431.6,307.6 434.7,304.3 437.7,300.9 440.5,297.5 443.2,293.9 445.7,290.3 448.2,286.6 450.5,282.8 452.6,278.9" fill="#ff4b10"/>
<polygon points="296.0,336.7 291.7,335.6 287.4,334.3 283.1,332.9 278.9,331.4 274.8,329.8 270.7,328.0 266.6,326.1 262.7,324.0 258.8,321.9 255.0,319.6 251.2,317.2 247.6,314.7 244.0,312.1 240.6,309.4 237.2,306.6 234.0,303.7 230.8,300.6 227.8,297.5 224.8,294.3 222.0,291.0 219.3,287.6 216.7,284.1 214.2,280.6 211.9,277.0 209.7,273.3 207.6,269.5 205.7,265.7 203.9,261.8 202.2,257.9 200.7,253.9 199.3,249.9 198.0,245.8 196.9,241.7 196.0,237.5 195.2,233.4 194.5,229.2 194.0,225.0 193.6,220.8 193.4,216.5 193.3,212.3 193.3,221.1 193.4,225.3 193.6,229.6 194.0,233.8 194.5,238.0 195.2,242.2 196.0,246.3 196.9,250.5 198.0,254.6 199.3,258.7 200.7,262.7 202.2,266.7 203.9,270.6 205.7,274.5 207.6,278.3 209.7,282.1 211.9,285.8 214.2,289.4 216.7,292.9 219.3,296.4 222.0,299.8 224.8,303.1 227.8,306.3 230.8,309.4 234.0,312.5 237.2,315.4 240.6,318.2 244.0,320.9 247.6,323.5 251.2,326.0 255.0,328.4 258.8,330.7 262.7,332.8 266.6,334.9 270.7,336.8 274.8,338.6 278.9,340.2 283.1,341.7 287.4,343.1 291.7,344.4 296.0,345.5" fill="#b9b9b9"/>
<path d="M330.3 212.3 L330.3 83.8 A137 128.5 0 0 1 432.6 126.8Z" fill="#008b8b" stroke="#008b8b" stroke-width=".5"/>
<path d="M330.3 212.3 L432.6 126.8 A137 128.5 0 0 1 452.6 270.1Z" fill="#a9a9a9" stroke="#a9a9a9" stroke-width=".5"/>
<path d="M330.3 212.3 L452.6 270.1 A137 128.5 0 0 1 296.0 336.7Z" fill="#ff6428" stroke="#ff6428" stroke-width=".5"/>
<path d="M330.3 212.3 L296.0 336.7 A137 128.5 0 0 1 193.6 204.3Z" fill="#d3d3d3" stroke="#d3d3d3" stroke-width=".5"/>
<path d="M330.3 212.3 L193.6 204.3 A137 128.5 0 0 1 330.3 83.8Z" fill="#bc8f8f" stroke="#bc8f8f" stroke-width=".5"/>
<path d="M417.6 67.9 C407.6 67.9 394.3 81.9 386.5 93.3" fill="none" stroke="#008b8b" stroke-width="1"/>
<path d="M501.0 191.0 C491.0 191.0 475.2 193.4 466.6 195.3" fill="none" stroke="#a9a9a9" stroke-width="1"/>
<path d="M417.6 357.0 C407.6 357.0 394.8 343.0 387.2 331.6" fill="none" stroke="#ff6428" stroke-width="1"/>
<path d="M187.4 305.5 C197.4 305.5 210.2 296.2 217.8 288.6" fill="none" stroke="#d3d3d3" stroke-width="1"/>
<path d="M205.3 96.5 C215.3 96.5 228.3 108.3 236.0 118.0" fill="none" stroke="#bc8f8f" stroke-width="1"/>
<text x="428" y="74" text-anchor="start" font-size="11" font-weight="700" fill="#000">Obrien Bennett Associates</text>
<text x="510" y="198" text-anchor="start" font-size="11" font-weight="700" fill="#000">Pearson and Case Plc</text>
<text x="428" y="363" text-anchor="start" font-size="11" font-weight="700" fill="#000">Emerson and Hayden Trading</text>
<text x="174.5" y="311" text-anchor="end" font-size="11" font-weight="700" fill="#000">Hewitt and Walters Associates</text>
<text x="193" y="103" text-anchor="end" font-size="11" font-weight="700" fill="#000" style="letter-spacing:.45px">Mckee Donovan Co</text>
</svg></div>
</body></html>
